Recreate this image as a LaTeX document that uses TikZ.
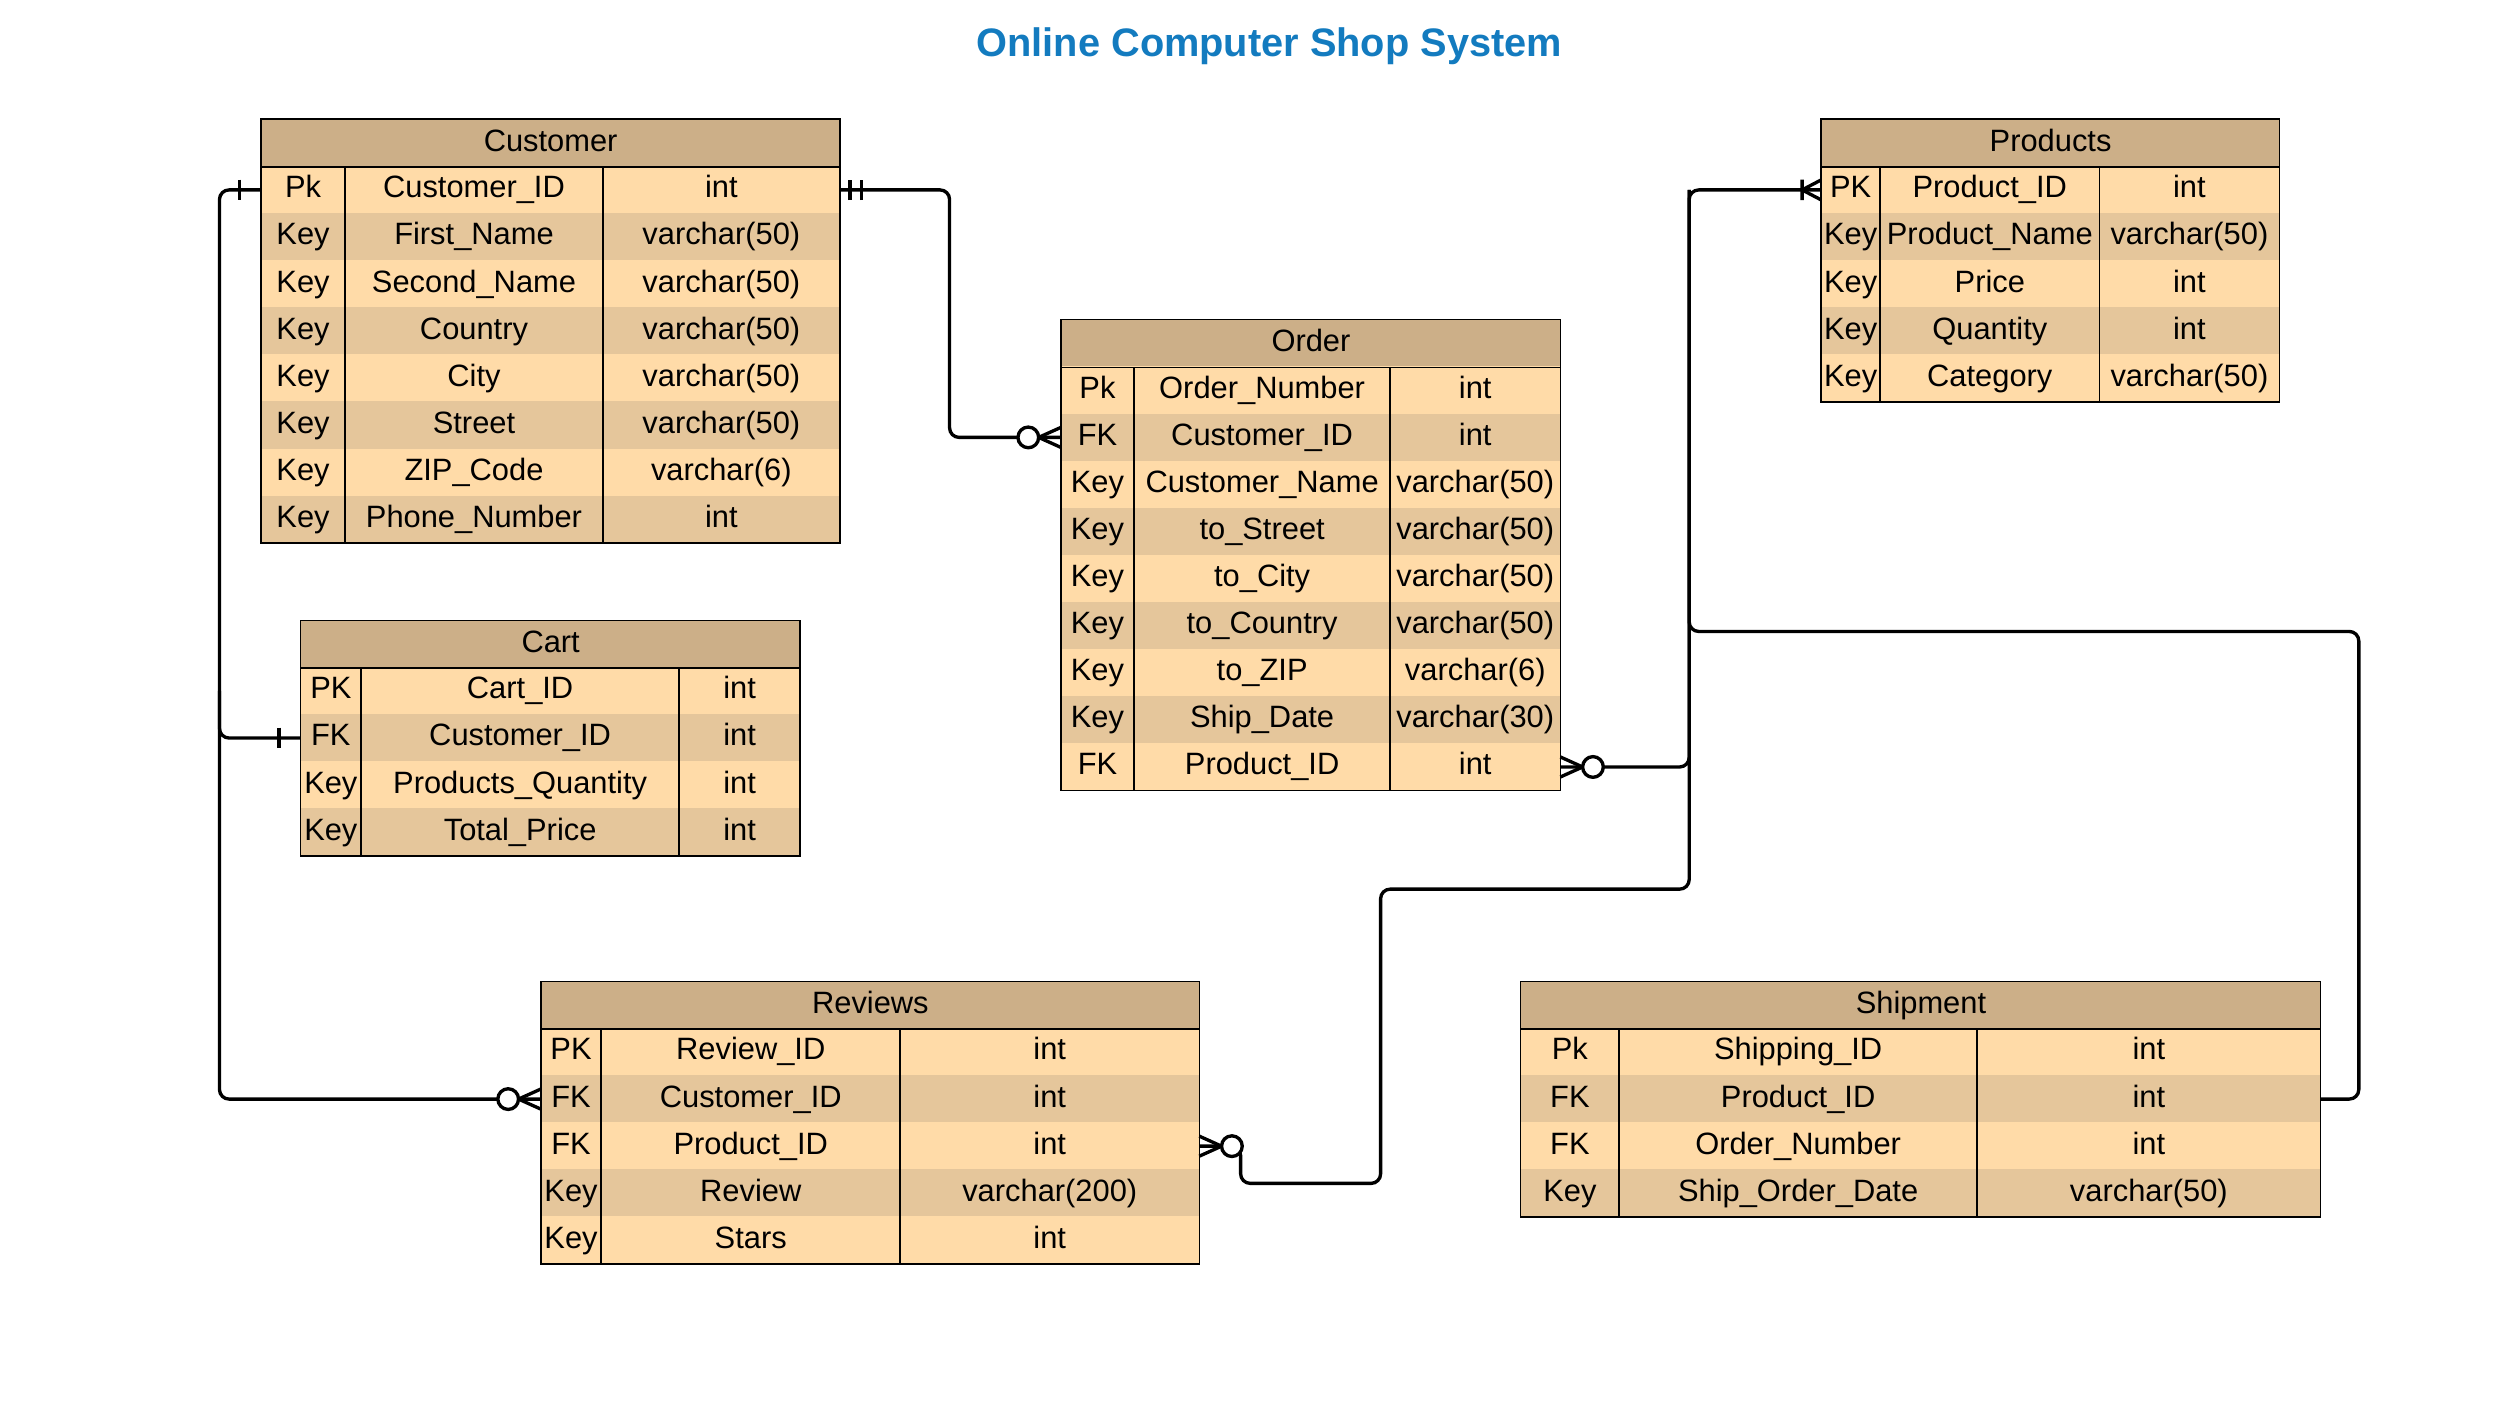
\documentclass[tikz,border=0pt]{standalone}
\usepackage{fontspec}
\setmainfont{Liberation Sans}
\usetikzlibrary{positioning,calc}

\definecolor{headtan}{HTML}{CCAF88}
\definecolor{rowlight}{HTML}{FFDBA8}
\definecolor{rowdark}{HTML}{E5C69B}
\definecolor{titleblue}{HTML}{137BBF}

\newcommand\rowh{29.6}
% table: name, title, x, y, key width, name width, type width, rows
\newcommand\ertable[8]{%
  \node[tblhead, minimum width={#5+#6+#7}] (#1) at (#3,#4) {#2};
  \foreach \fkey/\fname/\ftype [count=\i] in {#8} {
    \ifodd\i \def\rowfill{rowlight}\else \def\rowfill{rowdark}\fi
    \node[tblcell, fill=\rowfill, draw=\rowfill, minimum width=#5] (#1-\i-k) at (#3,#4+\rowh*\i) {\fkey};
    \node[tblcell, fill=\rowfill, draw=\rowfill, minimum width=#6, right=0pt of #1-\i-k] (#1-\i-n) {\fname};
    \node[tblcell, fill=\rowfill, draw=\rowfill, minimum width=#7, right=0pt of #1-\i-n] (#1-\i-t) {\ftype};
    \xdef\lastrow{\i}
  }
  \draw[tblframe] (#1.north west) rectangle (#1-\lastrow-t.south east);
  \draw[tblframe] (#1.south west) -- (#1.south east);
  \draw[tblframe] (#1-1-k.north east) -- (#1-\lastrow-k.south east);
  \draw[tblframe] (#1-1-n.north east) -- (#1-\lastrow-n.south east);
}

\begin{document}
\begin{tikzpicture}[x=1pt, y=-1pt,
    font=\fontsize{19.4}{23}\selectfont,
    tblhead/.style={anchor=north west, fill=headtan, inner sep=0pt,
      minimum height=\rowh, text height=14pt, text depth=4pt},
    tblcell/.style={anchor=north west, inner sep=0pt, outer sep=0pt, line width=0.4pt,
      minimum height=\rowh, text height=14pt, text depth=4pt},
    tblframe/.style={draw=black, line width=1pt},
    relline/.style={draw=black, line width=2.1pt, rounded corners=6pt},
    endmark/.style={draw=black, line width=2.1pt, line join=round},
    onemark/.pic={\draw[endmark] (-13.5,-6.5) -- (-13.5,6.5);},
    onlyone/.pic={\draw[endmark] (-6.5,-6.5) -- (-6.5,6.5) (-13.5,-6.5) -- (-13.5,6.5);},
    zeromany/.pic={\draw[endmark] (0,-6.3) -- (-14,0) -- (0,6.3);
      \draw[endmark, fill=white] (-20.5,0) circle (6.5);},
    onemany/.pic={\draw[endmark] (0,-6.3) -- (-12,0) -- (0,6.3) (-12,-6.5) -- (-12,6.5);}]

  \useasboundingbox (0,0) rectangle (1568,885);

  \node[font=\bfseries\fontsize{25}{30}\selectfont, text=titleblue] (title) at (798,29)
    {Online Computer Shop System};

  \ertable{cust}{Customer}{164}{75}{53}{162}{149}{
    Pk/Customer\_ID/int, Key/First\_Name/varchar(50), Key/Second\_Name/varchar(50),
    Key/Country/varchar(50), Key/City/varchar(50), Key/Street/varchar(50),
    Key/ZIP\_Code/varchar(6), Key/Phone\_Number/int}
  \ertable{cart}{Cart}{189}{390}{38}{200}{76}{
    PK/Cart\_ID/int, FK/Customer\_ID/int, Key/Products\_Quantity/int, Key/Total\_Price/int}
  \ertable{ord}{Order}{667}{201}{46}{161}{107}{
    Pk/Order\_Number/int, FK/Customer\_ID/int, Key/Customer\_Name/varchar(50),
    Key/to\_Street/varchar(50), Key/to\_City/varchar(50), Key/to\_Country/varchar(50),
    Key/to\_ZIP/varchar(6), Key/Ship\_Date/varchar(30), FK/Product\_ID/int}
  \ertable{prod}{Products}{1145}{75}{37}{138}{113}{
    PK/Product\_ID/int, Key/Product\_Name/varchar(50), Key/Price/int,
    Key/Quantity/int, Key/Category/varchar(50)}
  \ertable{rev}{Reviews}{340}{617}{38}{188}{188}{
    PK/Review\_ID/int, FK/Customer\_ID/int, FK/Product\_ID/int,
    Key/Review/varchar(200), Key/Stars/int}
  \ertable{ship}{Shipment}{956}{617}{62}{225}{216}{
    Pk/Shipping\_ID/int, FK/Product\_ID/int, FK/Order\_Number/int,
    Key/Ship\_Order\_Date/varchar(50)}

  \coordinate (ctrunk) at ($(cust-1-k.west)+(-26,0)$);
  \coordinate (ptrunk) at ($(prod-1-k.west)+(-83,0)$);

  % customer links
  \draw[relline] (cust-1-k.west) -- (ctrunk) |- (rev-2-k.west);
  \draw[relline] (ctrunk |- cart-1-k.west) |- (cart-2-k.west);
  \draw[relline] (cust-1-t.east) -- ++(69,0) |- (ord-2-k.west);
  % product links
  \draw[relline] (prod-1-k.west) -- (ptrunk) |- (868,559) |- (780,744) |- (rev-3-t.east);
  \draw[relline] (ord-9-t.east) -| (ptrunk);
  \draw[relline] (ptrunk) |- (1483,397) |- (ship-2-t.east);

  \pic at (cust-1-k.west) {onemark};
  \pic at (cart-2-k.west) {onemark};
  \pic[rotate=180] at (cust-1-t.east) {onlyone};
  \pic at (ord-2-k.west) {zeromany};
  \pic at (rev-2-k.west) {zeromany};
  \pic[rotate=180] at (ord-9-t.east) {zeromany};
  \pic[rotate=180] at (rev-3-t.east) {zeromany};
  \pic at (prod-1-k.west) {onemany};
\end{tikzpicture}
\end{document}
